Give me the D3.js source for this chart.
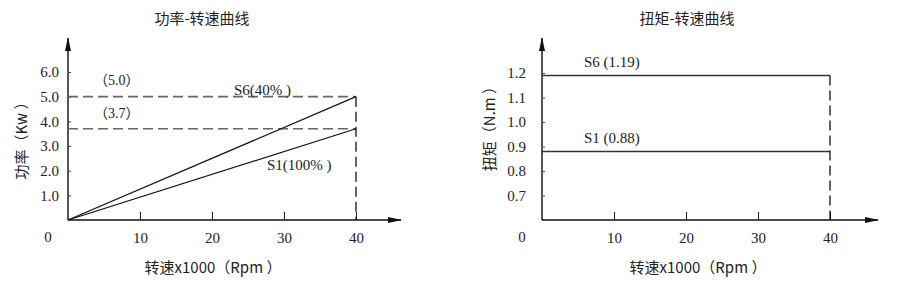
<!DOCTYPE html>
<html>
<head>
<meta charset="utf-8">
<script src="https://cdn.jsdelivr.net/npm/d3@7"></script>
<style>
  body { margin: 0; background: #fff; }
  svg text { fill: #222; }
</style>
</head>
<body>
<svg id="chart" width="911" height="285"></svg>
<script>
// speeds in x1000 rpm
const speeds = [0, 40];
const speedTicks = [10, 20, 30, 40];

// power chart
const powerTicks = [1.0, 2.0, 3.0, 4.0, 5.0, 6.0];
const powerS6 = [0, 5.0];
const powerS1 = [0, 3.7];

// torque chart
const torqueTicks = [0.7, 0.8, 0.9, 1.0, 1.1, 1.2];
const torqueS6 = [1.19, 1.19];
const torqueS1 = [0.88, 0.88];

const SERIF = '"Liberation Serif", "DejaVu Serif", "Noto Sans CJK SC", serif';
const CJK = '"Noto Sans CJK SC", sans-serif';

const svg = d3.select('#chart');

const defs = svg.append('defs');
defs.append('marker')
  .attr('id', 'arrow')
  .attr('viewBox', '0 0 14 8')
  .attr('refX', 13).attr('refY', 4)
  .attr('markerWidth', 14).attr('markerHeight', 8)
  .attr('markerUnits', 'userSpaceOnUse')
  .attr('orient', 'auto')
  .append('path')
  .attr('d', 'M0,1 L14,4 L0,7 Z')
  .attr('fill', '#111');

function frame(opt) {
  const g = svg.append('g').attr('font-family', SERIF);
  const x = d3.scaleLinear().domain([0, 40]).range([opt.x0, opt.x0 + 288]);
  const y = d3.scaleLinear().domain(opt.yDomain).range([220, opt.yTop]);

  // x axis ticks + labels
  const xAxis = d3.axisBottom(x)
    .tickValues(speedTicks)
    .tickSizeInner(-8).tickSizeOuter(0)
    .tickPadding(12)
    .tickFormat(d3.format('d'));
  const gx = g.append('g').attr('transform', 'translate(0,220)').call(xAxis)
    .attr('font-family', SERIF).attr('font-size', 15);
  gx.select('.domain').remove();
  gx.selectAll('line').attr('stroke', '#222');

  // y axis ticks + labels
  const yAxis = d3.axisLeft(y)
    .tickValues(opt.yTicks)
    .tickSizeInner(-3).tickSizeOuter(0)
    .tickPadding(opt.yPad)
    .tickFormat(d3.format('.1f'));
  const gy = g.append('g').attr('transform', `translate(${x(0)},0)`).call(yAxis)
    .attr('font-family', SERIF).attr('font-size', 15);
  gy.select('.domain').remove();
  gy.selectAll('line').attr('stroke', '#444');

  // axis lines with arrows
  g.append('line')
    .attr('x1', x(0)).attr('y1', 220).attr('x2', x(0)).attr('y2', 38)
    .attr('stroke', '#555').attr('stroke-width', 2)
    .attr('marker-end', 'url(#arrow)');
  g.append('line')
    .attr('x1', x(0)).attr('y1', 220).attr('x2', opt.xEnd).attr('y2', 220)
    .attr('stroke', '#111').attr('stroke-width', 1.5)
    .attr('marker-end', 'url(#arrow)');

  // origin label
  g.append('text').attr('x', x(0) - 20).attr('y', 242)
    .attr('text-anchor', 'middle').attr('font-size', 15).text('0');

  // titles
  g.append('text').attr('font-family', CJK)
    .attr('x', opt.titleX).attr('y', 24)
    .attr('text-anchor', 'middle').attr('font-size', 15)
    .text(opt.title);
  g.append('text').attr('font-family', CJK)
    .attr('x', opt.titleX + 11).attr('y', 273)
    .attr('text-anchor', 'middle').attr('font-size', 15)
    .text('转速x1000（Rpm ）');
  g.append('text').attr('font-family', CJK)
    .attr('transform', `translate(${opt.yLabelX},${opt.yLabelY}) rotate(-90)`)
    .attr('text-anchor', 'middle').attr('font-size', 15)
    .text(opt.yLabel);

  return { g, x, y };
}

// ---- power chart ----
const p = frame({
  x0: 68, yDomain: [0, 6], yTop: 72, yTicks: powerTicks, yPad: 9,
  xEnd: 401, title: '功率-转速曲线', titleX: 202,
  yLabel: '功率（Kw ）', yLabelX: 27, yLabelY: 137
});

const pLine = d3.line().x((d, i) => p.x(speeds[i])).y(d => p.y(d));

[powerS6[1], powerS1[1]].forEach(v => {
  p.g.append('line')
    .attr('x1', p.x(0)).attr('x2', p.x(40))
    .attr('y1', p.y(v)).attr('y2', p.y(v))
    .attr('stroke', '#666').attr('stroke-width', 1.6)
    .attr('stroke-dasharray', '10,5');
});
p.g.append('line')
  .attr('x1', p.x(40)).attr('x2', p.x(40))
  .attr('y1', p.y(powerS6[1])).attr('y2', p.y(0))
  .attr('stroke', '#111').attr('stroke-width', 1.3)
  .attr('stroke-dasharray', '10,5');

[powerS6, powerS1].forEach(s => {
  p.g.append('path').datum(s).attr('d', pLine)
    .attr('fill', 'none').attr('stroke', '#111').attr('stroke-width', 1.2);
});

p.g.append('text').attr('x', 94).attr('y', p.y(powerS6[1]) - 12)
  .attr('font-size', 14).text('（' + powerS6[1].toFixed(1) + '）');
p.g.append('text').attr('x', 94).attr('y', p.y(powerS1[1]) - 11)
  .attr('font-size', 14).text('（' + powerS1[1].toFixed(1) + '）');
p.g.append('text').attr('x', 234).attr('y', p.y(powerS6[1]) - 2)
  .attr('font-size', 15).text('S6(40% )');
p.g.append('text').attr('x', 267).attr('y', 170)
  .attr('font-size', 15).text('S1(100% )');

// ---- torque chart ----
const t = frame({
  x0: 542, yDomain: [0.6, 1.2], yTop: 73, yTicks: torqueTicks, yPad: 16,
  xEnd: 878, title: '扭矩-转速曲线', titleX: 687,
  yLabel: '扭矩（N.m ）', yLabelX: 495, yLabelY: 125
});

const tLine = d3.line().x((d, i) => t.x(speeds[i])).y(d => t.y(d));

[torqueS6, torqueS1].forEach(s => {
  t.g.append('path').datum(s).attr('d', tLine)
    .attr('fill', 'none').attr('stroke', '#333').attr('stroke-width', 1.5);
});
t.g.append('line')
  .attr('x1', t.x(40)).attr('x2', t.x(40))
  .attr('y1', t.y(torqueS6[1])).attr('y2', t.y(0.6))
  .attr('stroke', '#111').attr('stroke-width', 1.3)
  .attr('stroke-dasharray', '10,5');

t.g.append('text').attr('x', 584).attr('y', t.y(torqueS6[0]) - 8)
  .attr('font-size', 15).text('S6 (' + torqueS6[0].toFixed(2) + ')');
t.g.append('text').attr('x', 584).attr('y', t.y(torqueS1[0]) - 8)
  .attr('font-size', 15).text('S1 (' + torqueS1[0].toFixed(2) + ')');
</script>
</body>
</html>
